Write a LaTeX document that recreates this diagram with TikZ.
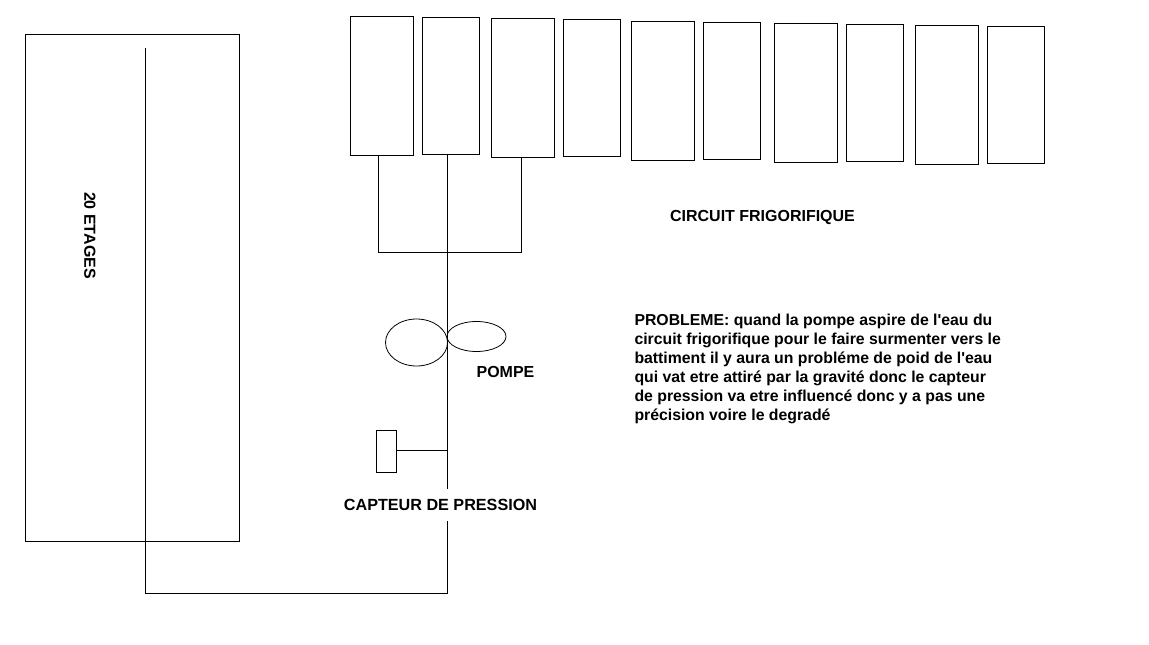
\documentclass[tikz,border=0pt]{standalone}
\usepackage{fontspec}
\setmainfont{Liberation Sans}
\usepackage{tikz}
\usetikzlibrary{positioning,shapes.geometric}
\tikzset{
  wire/.style={line width=0.5pt},
  bigbox/.style={draw,wire,anchor=north west,inner sep=0,outer sep=0,minimum width=1.26cm,minimum height=2.78cm},
  smallbox/.style={draw,wire,anchor=north west,inner sep=0,outer sep=0,minimum width=1.14cm,minimum height=2.74cm},
  lobe/.style={draw,line width=0.45pt,ellipse,inner sep=0,outer sep=0},
  lbl/.style={font=\bfseries\fontsize{9.1}{10.8}\selectfont,inner sep=0,outer sep=0}
}

\begin{document}
\begin{tikzpicture}[x=0.02cm,y=-0.02cm]
    \useasboundingbox (-0.5,-0.5) rectangle (1148.5,644.5);
    % building
    \node[draw,wire,anchor=north west,inner sep=0,outer sep=0,minimum width=4.28cm,minimum height=10.14cm] (building) at (25,34) {};
    \node[lbl,rotate=-90] (floors) at (89.5,235) {20 ETAGES};
    % cooling units
    \foreach \n/\x/\y/\kind in {1/350/16/bigbox,2/422/17/smallbox,3/491/18/bigbox,4/563/19/smallbox,5/631/21/bigbox,
                                6/703/22/smallbox,7/774/23/bigbox,8/846/24/smallbox,9/915/25/bigbox,10/987/26/smallbox}{
      \node[\kind] (unit\n) at (\x,\y) {};
    }
    % manifold
    \coordinate (busL) at (378,252);
    \coordinate (busM) at (447,252);
    \coordinate (busR) at (521,252);
    \coordinate (low) at (447,593);
    \coordinate (lowL) at (145,593);
    \coordinate (top) at (145,48);
    \coordinate (tap) at (447,450);
    \draw[wire] (busL |- unit1.south) -- (busL) -- (busR) -- (busR |- unit3.south);
    % riser
    \draw[wire] (busM |- unit2.south) -- (low) -- (lowL) -- (top);
    % pump
    \node[lobe,minimum width=1.24cm,minimum height=0.94cm] (lobeL) at (416,342) {};
    \node[lobe,minimum width=1.18cm,minimum height=0.60cm] (lobeR) at (476,336) {};
    \node[lbl] (pump) at (505,371) {POMPE};
    % sensor
    \node[draw,wire,inner sep=0,outer sep=0,minimum width=0.40cm,minimum height=0.84cm] (sensor) at (386,451) {};
    \draw[wire] (sensor.east |- tap) -- (tap);
    \node[lbl,fill=white,inner ysep=6pt,inner xsep=1pt,font=\bfseries\fontsize{9.2}{10.8}\selectfont] (sensorlbl) at (440,504.5) {CAPTEUR DE PRESSION};
    % texts
    \node[lbl] (circuit) at (762,217) {CIRCUIT FRIGORIFIQUE};
    \node[lbl,anchor=north west,align=left,font=\bfseries\fontsize{9}{10.8}\selectfont] (problem) at (634,313.5) {PROBLEME: quand la pompe aspire de l\textquotesingle eau du\\
      circuit frigorifique pour le faire surmenter vers le\\
      battiment il y aura un probléme de poid de l\textquotesingle eau\\
      qui vat etre attiré par la gravité donc le capteur\\
      de pression va etre influencé donc y a pas une\\
      précision voire le degradé};
  \end{tikzpicture}
\end{document}
